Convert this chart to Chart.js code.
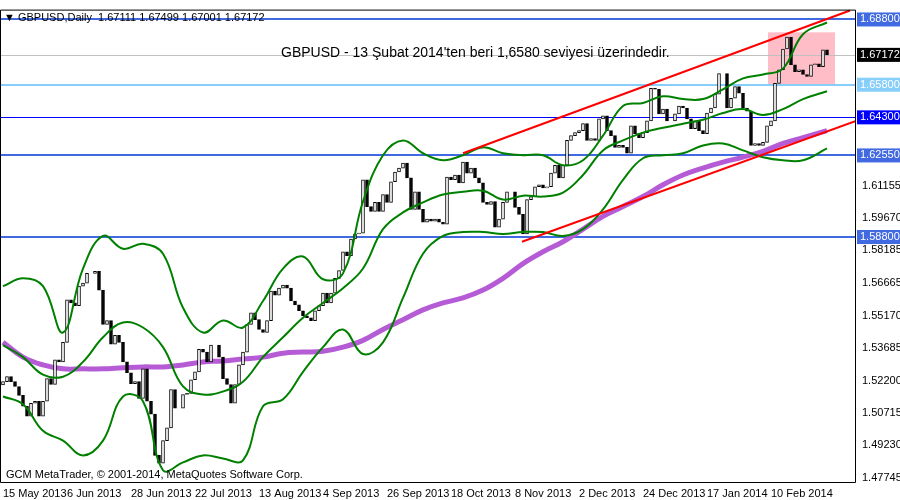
<!DOCTYPE html>
<html>
<head>
<meta charset="utf-8">
<script src="https://cdn.jsdelivr.net/npm/chart.js@4.4.0/dist/chart.umd.min.js"></script>
<style>
  html, body { margin: 0; padding: 0; background: #fff; overflow: hidden; }
  #wrap { width: 900px; height: 500px; position: relative; }
</style>
</head>
<body>
<div id="wrap"><canvas id="grafico" width="900" height="500"></canvas></div>
<script>
// daily closes, GBPUSD, 15 May 2013 .. early Mar 2014
const closes = [
  1.5215,1.5238,1.5215,1.5193,1.5152,1.5102,1.5057,1.5116,1.5125,1.5057,1.5125,1.5229,1.5202,1.5315,1.5306,1.5396,
  1.5591,1.5577,1.5564,1.5654,1.5668,1.5713,1.5713,1.5722,1.5636,1.5478,1.5496,1.5387,1.5428,1.5396,1.5306,1.5256,
  1.5206,1.5215,1.5138,1.5274,1.5125,
  1.5066,1.4876,1.4840,1.4944,1.5003,1.5179,1.5093,1.5093,1.5156,1.5161,1.5224,1.5260,1.5364,1.5351,1.5306,1.5383,
  1.5383,1.5328,1.5229,1.5202,1.5116,1.5202,1.5292,1.5351,1.5478,1.5532,1.5500,1.5455,1.5441,1.5496,1.5631,1.5613,
  1.5645,1.5659,1.5645,1.5586,
  1.5568,1.5541,1.5518,1.5509,1.5496,1.5541,1.5564,1.5622,1.5577,1.5622,1.5690,1.5726,1.5812,1.5794,1.5871,1.5894,
  1.5898,1.6143,1.6020,1.5998,1.6039,1.5998,1.6075,1.6039,1.6134,1.6179,1.6197,1.6220,1.6152,1.6007,1.6088,1.6007,
  1.5948,1.5962,
  1.5953,1.5962,1.5948,1.5939,1.6156,1.6143,1.6165,1.6129,1.6224,1.6174,1.6197,1.6152,1.6129,1.6039,1.6030,1.6043,
  1.5925,1.5962,1.6039,1.6088,1.6088,1.6016,1.5984,1.5894,1.6052,1.6066,1.6111,1.6120,1.6106,1.6111,1.6174,1.6210,
  1.6152,1.6210,1.6324,1.6346,1.6360,1.6369,
  1.6401,1.6324,1.6333,1.6324,1.6423,1.6437,1.6369,1.6346,1.6292,1.6301,1.6292,1.6265,1.6391,1.6355,1.6337,1.6360,
  1.6414,1.6563,1.6559,1.6446,1.6468,1.6414,1.6414,1.6446,1.6482,1.6473,1.6423,1.6378,1.6414,1.6369,1.6355,1.6450,
  1.6473,1.6536,1.6631,1.6631,1.6473,1.6518,1.6572,1.6541,1.6473,1.6459,1.6301,1.6310,1.6301,1.6315,1.6391,1.6414,
  1.6586,
  1.6649,1.6744,1.6799,1.6672,1.6640,1.6649,1.6627,1.6618,1.6672,1.6676,1.6663,1.6740,1.67172
];
const firstOpen = 1.5200;

// indicator readings every 5 bars (bar index -> price)
const bandIdx = [0,5,10,15,20,25,30,35,40,45,50,55,60,65,70,75,80,85,90,95,100,105,110,115,120,125,130,135,140,145,150,155,160,165,170,175,180,185,190,195,200,206];
const upperBand = [1.5654,1.5690,1.5654,1.5441,1.5735,1.5885,1.5826,1.5849,1.5803,1.5555,1.5441,1.5496,1.5464,1.5586,1.5735,1.5790,1.5686,1.5713,1.6043,1.6256,1.6324,1.6265,1.6233,1.6256,1.6292,1.6265,1.6256,1.6256,1.6210,1.6233,1.6346,1.6482,1.6496,1.6527,1.6514,1.6514,1.6559,1.6609,1.6627,1.6654,1.6812,1.6866];
const midBand = [1.5383,1.5328,1.5247,1.5238,1.5306,1.5419,1.5487,1.5464,1.5374,1.5193,1.5156,1.5170,1.5215,1.5328,1.5419,1.5509,1.5577,1.5645,1.5735,1.5916,1.5993,1.6039,1.6075,1.6088,1.6093,1.6052,1.6070,1.6066,1.6084,1.6165,1.6278,1.6324,1.6360,1.6382,1.6401,1.6419,1.6450,1.6468,1.6441,1.6468,1.6514,1.6550];
const lowerBand = [1.5147,1.5111,1.4989,1.4944,1.4876,1.4944,1.5147,1.5125,1.4808,1.4844,1.4876,1.4862,1.4853,1.5102,1.5134,1.5260,1.5374,1.5455,1.5342,1.5396,1.5600,1.5803,1.5885,1.5903,1.5903,1.5894,1.5903,1.5903,1.5885,1.5916,1.6007,1.6143,1.6242,1.6256,1.6265,1.6301,1.6310,1.6278,1.6247,1.6233,1.6233,1.6287];
const movAvg = [1.5396,1.5328,1.5292,1.5274,1.5274,1.5274,1.5279,1.5283,1.5283,1.5292,1.5306,1.5310,1.5319,1.5328,1.5346,1.5351,1.5355,1.5374,1.5405,1.5455,1.5500,1.5545,1.5577,1.5600,1.5636,1.5690,1.5758,1.5812,1.5858,1.5916,1.5975,1.6020,1.6066,1.6120,1.6165,1.6197,1.6224,1.6247,1.6274,1.6310,1.6337,1.6369];

// channel lines [bar, price]
const upperTrend = [[115, 1.6265], [211.75, 1.6921]];
const lowerTrend = [[129.75, 1.5858], [213.25, 1.6414]];

// horizontal levels
const levelPrices = [1.6880, 1.6580, 1.6430, 1.6255, 1.5880];
const lastPrice = 1.67172;

// pink zone since 13 Feb [bar from, bar to, price low, price high]
const zone = [191.25, 208, 1.6581, 1.6821];

const tickPrices = [1.68800, 1.67172, 1.65800, 1.64300, 1.62550, 1.61155, 1.59670, 1.58800, 1.58185, 1.56665, 1.55170, 1.53685, 1.52200, 1.50715, 1.49230, 1.47745];
const dateIdx = [0,16,32,48,64,80,96,112,128,144,160,176,192];
const dateLabels = ['15 May 2013','6 Jun 2013','28 Jun 2013','22 Jul 2013','13 Aug 2013','4 Sep 2013','26 Sep 2013','18 Oct 2013','8 Nov 2013','2 Dec 2013','24 Dec 2013','17 Jan 2014','10 Feb 2014'];

const titleText = '\u25BC GBPUSD,Daily  1.67111 1.67499 1.67001 1.67172';
const noteText = "GBPUSD - 13 \u015Eubat 2014'ten beri 1,6580 seviyesi \u00FCzerindedir.";
const copyText = 'GCM MetaTrader, \u00A9 2001-2014, MetaQuotes Software Corp.';

const candles = closes.map((c, i) => ({ x: i, y: [i === 0 ? firstOpen : closes[i - 1], c] }));
const candleFill = closes.map((c, i) => (c >= (i === 0 ? firstOpen : closes[i - 1]) ? '#ffffff' : '#000000'));
const pts = arr => arr.map((v, k) => ({ x: bandIdx[k], y: v }));

const levelColors = ['#4169e1', '#87cefa', '#0000ff', '#4169e1', '#4169e1'];
const levelWidths = [2, 2, 1, 2, 2];
const fonte = '"Liberation Sans", sans-serif';

const fundo = {
    id: 'fundo',
    beforeDatasetsDraw(chart) {
        const { ctx, chartArea: a, scales: { x, y } } = chart;
        ctx.save();
        ctx.fillStyle = 'rgba(255,182,193,0.9)';
        const zx1 = x.getPixelForValue(zone[0]), zx2 = x.getPixelForValue(zone[1]);
        const zy1 = y.getPixelForValue(zone[3]), zy2 = y.getPixelForValue(zone[2]);
        ctx.fillRect(zx1, zy1, zx2 - zx1, zy2 - zy1);
        ctx.strokeStyle = '#c0c0c0';
        ctx.lineWidth = 1;
        const ly = Math.round(y.getPixelForValue(lastPrice)) + 0.5;
        ctx.beginPath(); ctx.moveTo(a.left, ly); ctx.lineTo(a.right, ly); ctx.stroke();
        levelPrices.forEach((p, k) => {
            const py = Math.round(y.getPixelForValue(p)) + (levelWidths[k] === 1 ? 0.5 : 0);
            ctx.strokeStyle = levelColors[k];
            ctx.lineWidth = levelWidths[k];
            ctx.beginPath(); ctx.moveTo(a.left, py); ctx.lineTo(a.right, py); ctx.stroke();
        });
        ctx.restore();
    },
    afterDatasetsDraw(chart) {
        const { ctx, chartArea: a, scales: { x, y } } = chart;
        ctx.save();
        ctx.beginPath(); ctx.rect(a.left, a.top, a.right - a.left, a.bottom - a.top); ctx.clip();
        ctx.strokeStyle = '#ff0000';
        ctx.lineWidth = 2;
        [upperTrend, lowerTrend].forEach(t => {
            ctx.beginPath();
            ctx.moveTo(x.getPixelForValue(t[0][0]), y.getPixelForValue(t[0][1]));
            ctx.lineTo(x.getPixelForValue(t[1][0]), y.getPixelForValue(t[1][1]));
            ctx.stroke();
        });
        ctx.restore();

        ctx.save();
        ctx.fillStyle = '#000';
        ctx.font = '14px ' + fonte;
        ctx.textBaseline = 'middle';
        ctx.fillText(noteText, x.getPixelForValue(69.5), y.getPixelForValue(1.6726));
        ctx.font = '11px ' + fonte;
        ctx.fillText(titleText, a.left + 4, a.top + 8);
        ctx.fillText(copyText, a.left + 6, a.bottom - 8);

        ctx.strokeStyle = '#000';
        ctx.lineWidth = 1;
        ctx.beginPath(); ctx.rect(a.left + 0.5, a.top + 0.5, a.right - a.left - 1, a.bottom - a.top - 1); ctx.stroke();
        const boxes = levelPrices.map((p, k) => [p, levelColors[k]]).concat([[lastPrice, '#000000']]);
        ctx.font = '11px ' + fonte;
        boxes.forEach(([p, col]) => {
            const py = y.getPixelForValue(p);
            ctx.fillStyle = col;
            ctx.fillRect(a.right + 1, py - 7, 900 - a.right - 1, 14);
            ctx.fillStyle = '#fff';
            ctx.fillText(p.toFixed(5), a.right + 4, py);
        });
        ctx.restore();
    }
};

new Chart(document.getElementById('grafico'), {
    data: {
        datasets: [
            { type: 'line', data: pts(movAvg), borderColor: '#b65bd6', borderWidth: 5, pointRadius: 0, tension: 0.4, order: 3 },
            { type: 'line', data: pts(upperBand), borderColor: '#008000', borderWidth: 2, pointRadius: 0, tension: 0.4, order: 1 },
            { type: 'line', data: pts(midBand), borderColor: '#008000', borderWidth: 2, pointRadius: 0, tension: 0.4, order: 1 },
            { type: 'line', data: pts(lowerBand), borderColor: '#008000', borderWidth: 2, pointRadius: 0, tension: 0.4, order: 1 },
            {
                type: 'bar', data: candles, backgroundColor: candleFill, borderColor: '#000',
                borderWidth: 1, borderSkipped: false, barThickness: 3, order: 2
            }
        ]
    },
    options: {
        responsive: false,
        devicePixelRatio: 1,
        animation: false,
        layout: { padding: 0 },
        plugins: { legend: { display: false }, tooltip: { enabled: false } },
        scales: {
            x: {
                type: 'linear', min: -0.75, max: 213.25, offset: false,
                grid: { display: false, drawTicks: true, tickLength: 3 },
                border: { display: false },
                afterBuildTicks: s => { s.ticks = dateIdx.map(v => ({ value: v })); },
                afterFit: s => { s.height = 17; },
                ticks: {
                    autoSkip: false, maxRotation: 0, align: 'start', padding: 1,
                    color: '#000', font: { size: 11, family: fonte },
                    callback: v => dateLabels[dateIdx.indexOf(v)]
                }
            },
            y: {
                position: 'right', min: 1.47493, max: 1.69253,
                grid: { display: false, tickLength: 3 },
                border: { display: false },
                afterBuildTicks: s => { s.ticks = tickPrices.map(v => ({ value: v })); },
                afterFit: s => { s.width = 44; },
                ticks: {
                    autoSkip: false, color: '#000', padding: 3,
                    font: { size: 11, family: fonte },
                    callback: v => v.toFixed(5)
                }
            }
        }
    },
    plugins: [fundo]
});
</script>
</body>
</html>
